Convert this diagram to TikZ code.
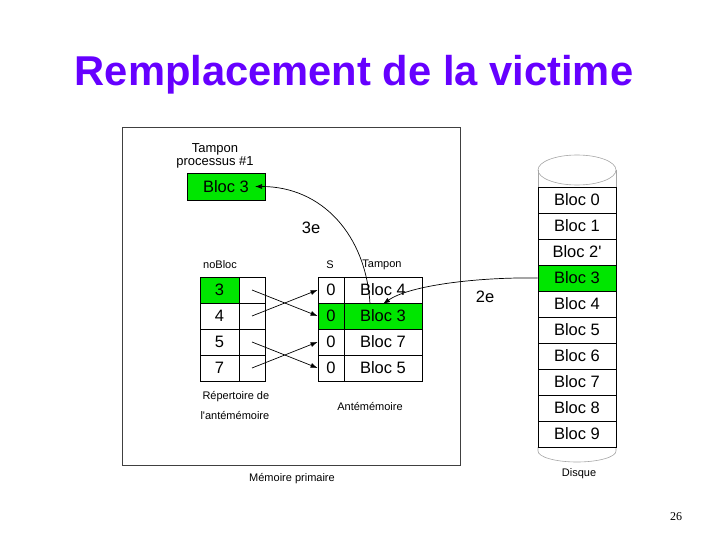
\documentclass[tikz,border=0pt]{standalone}
\usepackage{fontspec}
\setmainfont{Liberation Sans}
\newfontfamily\pnfont{Liberation Serif}
\usetikzlibrary{arrows.meta,calc}
\definecolor{hlgreen}{RGB}{0,230,0}
\definecolor{titleblue}{RGB}{102,0,255}
\begin{document}
\begin{tikzpicture}[x=1pt,y=-1pt,
  big/.style={font=\fontsize{16.5}{18}\selectfont},
  small/.style={font=\fontsize{11}{13}\selectfont},
  mid/.style={font=\fontsize{13}{13}\selectfont},
  cell/.style={draw=black,line width=0.8pt,inner sep=0pt,minimum height=26pt,big},
  narrowcell/.style={cell,minimum width=26pt},
  numcell/.style={cell,minimum width=39pt},
  widecell/.style={cell,minimum width=78pt},
  hl/.style={fill=hlgreen},
  arr/.style={-{Latex[length=7pt,width=5pt]},line width=0.7pt},
  cyl/.style={draw=gray!70,line width=0.6pt},
  frame/.style={draw=black!75,line width=0.9pt}
]
\useasboundingbox (0,0) rectangle (720,540);

% title
\node[font=\bfseries\fontsize{41.7}{44}\selectfont,text=titleblue,anchor=base] (title) at (354,86) {Remplacement de la victime};
\node[font=\pnfont\fontsize{12}{14}\selectfont,anchor=base] (page) at (676,520) {26};

% primary memory frame
\node[frame,minimum width=338pt,minimum height=338pt,inner sep=0pt] (mem) at (291,296) {};
\node[small] (memlbl) at (292,479) {Mémoire primaire};

% process buffer
\node[mid,align=center] (tplbl) at (215,156) {Tampon\\processus \#1};
\node[widecell,hl,minimum height=27pt] (tp) at (226,186.5) {Bloc 3};

% cache directory
\node[small] (nbl) at (220,265) {noBloc};
\node[numcell,hl] (n1) at (219.5,290) {3};
\node[numcell] (n2) at (219.5,316) {4};
\node[numcell] (n3) at (219.5,342) {5};
\node[numcell] (n4) at (219.5,368) {7};
\node[narrowcell] (p1) at (252,290) {};
\node[narrowcell] (p2) at (252,316) {};
\node[narrowcell] (p3) at (252,342) {};
\node[narrowcell] (p4) at (252,368) {};
\node[small,anchor=west] (rep1) at (199,397) {Répertoire de};
\node[small,anchor=west] (rep2) at (197,416) {l\textquotesingle antémémoire};

% cache
\node[small] (slbl) at (330,265) {S};
\node[small] (tlbl) at (382,265) {Tampon};
\node[narrowcell] (s1) at (331,290) {0};
\node[narrowcell,hl] (s2) at (331,316) {0};
\node[narrowcell] (s3) at (331,342) {0};
\node[narrowcell] (s4) at (331,368) {0};
\node[widecell] (t1) at (383,290) {Bloc 4};
\node[widecell,hl] (t2) at (383,316) {Bloc 3};
\node[widecell] (t3) at (383,342) {Bloc 7};
\node[widecell] (t4) at (383,368) {Bloc 5};
\node[small] (antlbl) at (370,407) {Antémémoire};

% directory pointers
\draw[arr] (p1.center) -- (s2.west);
\draw[arr] (p2.center) -- (s1.west);
\draw[arr] (p3.center) -- (s4.west);
\draw[arr] (p4.center) -- (s3.west);

% disk
\draw[cyl] (577,170) ellipse [x radius=39pt, y radius=15pt];
\draw[cyl] (538,170) -- (538,187);
\draw[cyl] (616,170) -- (616,187);
\draw[cyl] (538,447) -- (538,451) arc[start angle=180, end angle=360, x radius=39pt, y radius=11pt] -- (616,447);
\node[widecell] (d0) at (577,200) {Bloc 0};
\node[widecell] (d1) at (577,226) {Bloc 1};
\node[widecell] (d2) at (577,252) {Bloc 2\textquotesingle};
\node[widecell,hl] (d3) at (577,278) {Bloc 3};
\node[widecell] (d4) at (577,304) {Bloc 4};
\node[widecell] (d5) at (577,330) {Bloc 5};
\node[widecell] (d6) at (577,356) {Bloc 6};
\node[widecell] (d7) at (577,382) {Bloc 7};
\node[widecell] (d8) at (577,408) {Bloc 8};
\node[widecell] (d9) at (577,434) {Bloc 9};
\node[small] (disklbl) at (579,474) {Disque};

% transfers
\coordinate (c2e) at (383,304);
\draw[arr] (d3.west) .. controls (480,277) and (410,285) .. (c2e);
\node[big] (l2e) at (485,297) {2e};
\coordinate (c3s) at (370,304);
\coordinate (c3e) at (255,186.5);
\draw[arr] (c3s) .. controls (366,235) and (322,186.5) .. (c3e);
\node[big] (l3e) at (311,228) {3e};
\end{tikzpicture}
\end{document}
